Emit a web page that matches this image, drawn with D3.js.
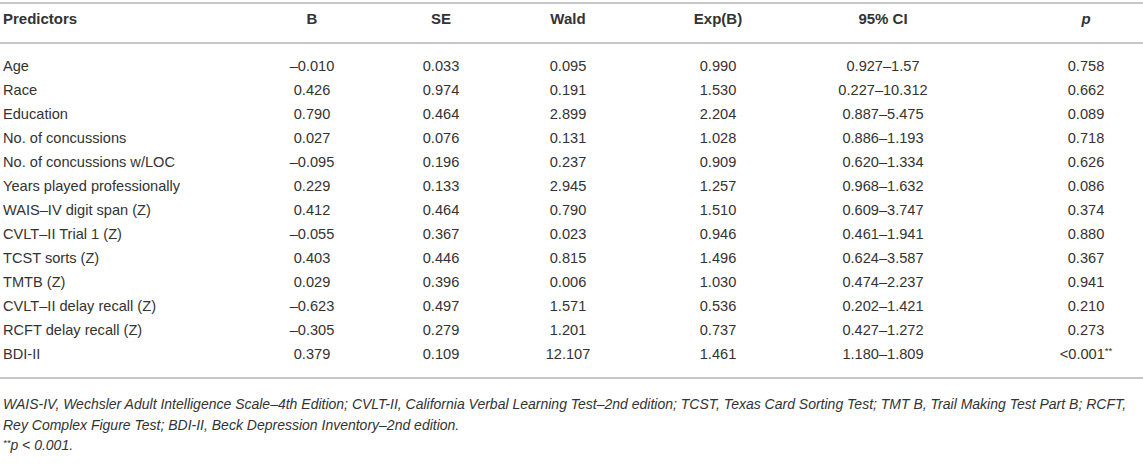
<!DOCTYPE html>
<html><head><meta charset="utf-8">
<script src="https://cdn.jsdelivr.net/npm/d3@7"></script>
<style>body{margin:0;background:#fff}svg{display:block}text{font-family:"Liberation Sans",Arial,sans-serif}</style>
</head><body><div id="c"></div>
<script>
const columns = ["Predictors","B","SE","Wald","Exp(B)","95% CI","p"];
const predictors = ["Age","Race","Education","No. of concussions","No. of concussions w/LOC","Years played professionally","WAIS–IV digit span (Z)","CVLT–II Trial 1 (Z)","TCST sorts (Z)","TMTB (Z)","CVLT–II delay recall (Z)","RCFT delay recall (Z)","BDI-II"];
const B = ["–0.010","0.426","0.790","0.027","–0.095","0.229","0.412","–0.055","0.403","0.029","–0.623","–0.305","0.379"];
const SE = ["0.033","0.974","0.464","0.076","0.196","0.133","0.464","0.367","0.446","0.396","0.497","0.279","0.109"];
const Wald = ["0.095","0.191","2.899","0.131","0.237","2.945","0.790","0.023","0.815","0.006","1.571","1.201","12.107"];
const ExpB = ["0.990","1.530","2.204","1.028","0.909","1.257","1.510","0.946","1.496","1.030","0.536","0.737","1.461"];
const CI = ["0.927–1.57","0.227–10.312","0.887–5.475","0.886–1.193","0.620–1.334","0.968–1.632","0.609–3.747","0.461–1.941","0.624–3.587","0.474–2.237","0.202–1.421","0.427–1.272","1.180–1.809"];
const P = ["0.758","0.662","0.089","0.718","0.626","0.086","0.374","0.880","0.367","0.941","0.210","0.273","<0.001"];
const pMarks = ["","","","","","","","","","","","","**"];
const footnotes = [
 "WAIS-IV, Wechsler Adult Intelligence Scale–4th Edition; CVLT-II, California Verbal Learning Test–2nd edition; TCST, Texas Card Sorting Test; TMT B, Trail Making Test Part B; RCFT,",
 "Rey Complex Figure Test; BDI-II, Beck Depression Inventory–2nd edition."
];

const W = 1143, H = 472;
const svg = d3.select("#c").append("svg").attr("width", W).attr("height", H);
const colX = d3.scaleOrdinal().domain(columns).range([3, 312, 441, 568, 718, 883, 1086]);
const rowY = d3.scaleBand().domain(d3.range(predictors.length)).range([54, 366]);
const ink = "#333";
const rule = "#b3b3b3";

[3, 43, 378].forEach(y => svg.append("line").attr("x1", 0).attr("x2", W).attr("y1", y).attr("y2", y).attr("stroke", rule).attr("stroke-width", 1.6));

svg.selectAll("text.h").data(columns).join("text").attr("class","h")
  .attr("x", d => colX(d)).attr("y", 24)
  .attr("text-anchor", (d,i) => i === 0 ? "start" : "middle")
  .attr("font-size", 15).attr("font-weight", "bold")
  .attr("font-style", d => d === "p" ? "italic" : "normal")
  .attr("fill", ink).text(d => d);

const cols = [predictors, B, SE, Wald, ExpB, CI, P];
predictors.forEach((_, r) => {
  cols.forEach((arr, c) => {
    const t = svg.append("text")
      .attr("x", colX(columns[c])).attr("y", rowY(r) + rowY.bandwidth()/2 + 5)
      .attr("text-anchor", c === 0 ? "start" : "middle")
      .attr("font-size", 14.6).attr("fill", ink).text(arr[r]);
    if (c === 6 && pMarks[r]) {
      t.append("tspan").attr("font-size", 9.5).attr("dy", -5).text(pMarks[r]);
    }
  });
});

footnotes.forEach((f, i) => svg.append("text").attr("x", 3).attr("y", 409 + i * 21)
  .attr("font-size", 14).attr("font-style", "italic").attr("fill", ink).text(f));
const last = svg.append("text").attr("x", 3).attr("y", 450).attr("font-size", 14).attr("font-style", "italic").attr("fill", ink);
last.append("tspan").attr("font-size", 9.5).attr("dy", -4).text("**");
last.append("tspan").attr("dy", 4).text("p < 0.001.");
</script></body></html>
